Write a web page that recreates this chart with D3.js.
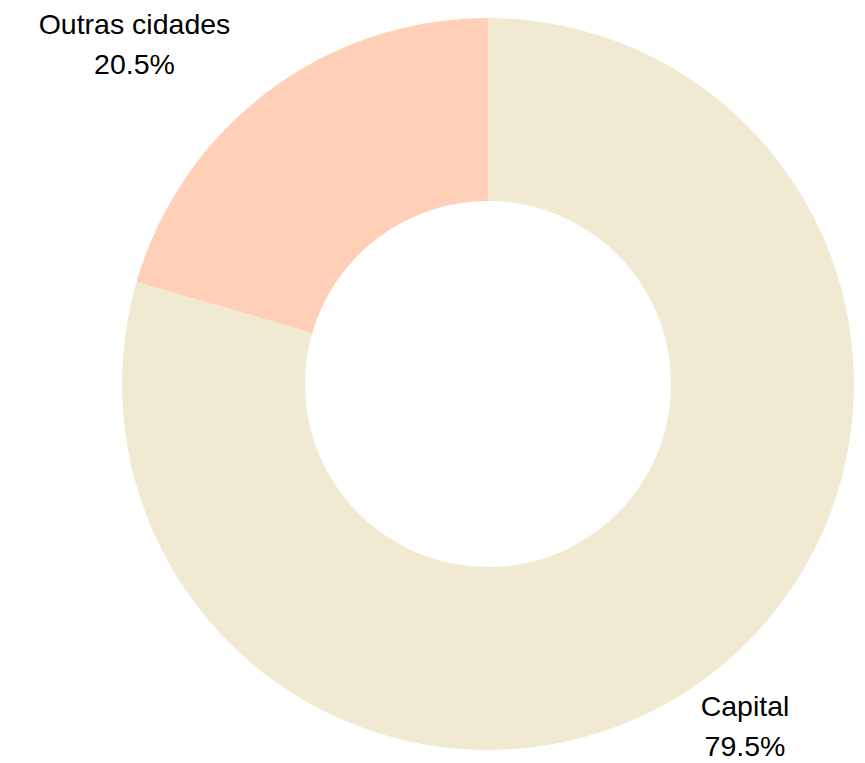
<!DOCTYPE html>
<html>
<head>
<meta charset="utf-8">
<script src="https://cdn.jsdelivr.net/npm/d3@7"></script>
<style>
  body { margin: 0; background: #fff; }
  svg { display: block; font-family: "Liberation Sans", Arial, sans-serif; }
</style>
</head>
<body>
<svg id="chart" width="865" height="763"></svg>
<script>
// data
const categories = ['Capital', 'Outras cidades'];
const values = [79.5, 20.5];
const colors = ['#f0ead2', '#ffd0b7'];

const width = 865, height = 763;
const cx = 488, cy = 384;
const outer = 366, inner = 183;

// label anchors (layout only)
const labelPos = {
    'Capital': [745, 716],
    'Outras cidades': [134.5, 34]
};

const svg = d3.select('#chart');
const g = svg.append('g').attr('transform', `translate(${cx},${cy})`);

const pie = d3.pie().sort(null).value(d => d.value);
const arc = d3.arc().innerRadius(inner).outerRadius(outer);

const data = categories.map((c, i) => ({ name: c, value: values[i], color: colors[i] }));
const arcs = pie(data);

g.selectAll('path')
    .data(arcs)
    .enter()
    .append('path')
    .attr('d', arc)
    .attr('fill', d => d.data.color);

const labels = svg.selectAll('text.lbl')
    .data(arcs)
    .enter()
    .append('text')
    .attr('class', 'lbl')
    .attr('text-anchor', 'middle')
    .attr('font-size', 28.5)
    .attr('fill', '#000')
    .attr('transform', d => `translate(${labelPos[d.data.name][0]},${labelPos[d.data.name][1]})`);

labels.append('tspan')
    .attr('x', 0)
    .attr('y', 0)
    .text(d => d.data.name);
labels.append('tspan')
    .attr('x', 0)
    .attr('y', 39.5)
    .text(d => d3.format('.1f')(d.data.value) + '%');
</script>
</body>
</html>
